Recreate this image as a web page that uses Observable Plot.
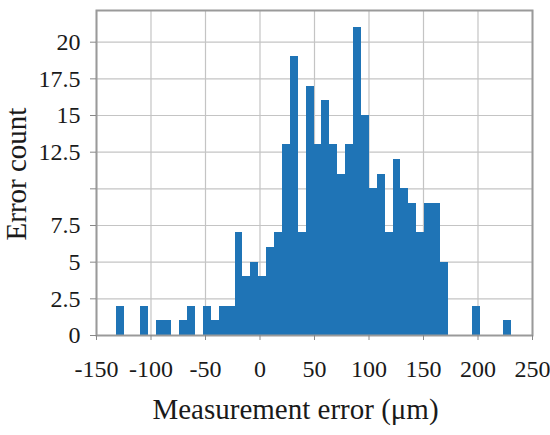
<!DOCTYPE html>
<html>
<head>
<meta charset="utf-8">
<script src="https://cdn.jsdelivr.net/npm/d3@7"></script>
<script src="https://cdn.jsdelivr.net/npm/@observablehq/plot@0.6"></script>
<style>
  html, body { margin: 0; padding: 0; background: #fff; }
  #chart { width: 550px; height: 435px; }
</style>
</head>
<body>
<div id="chart"></div>
<script>
// Histogram: 50 equal-width bins of measurement error (µm)
const binStart = -131.65;   // left edge of first bin (µm)
const binWidth = 7.25;      // bin width (µm)
const counts = [
  2, 0, 0, 2, 0, 1, 1, 0, 1, 2,
  0, 2, 1, 2, 2, 7, 4, 5, 4, 6,
  7, 13, 19, 7, 17, 13, 16, 13, 11, 13,
  21, 15, 10, 11, 7, 12, 10, 9, 7, 9,
  9, 5, 0, 0, 0, 2, 0, 0, 0, 1
];
const xTicks = [-150, -100, -50, 0, 50, 100, 150, 200, 250];
const xTickLabels = ["-150", "-100", "-50", "0", "50", "100", "150", "200", "250"];
const yTicks = [0, 2.5, 5, 7.5, 10, 12.5, 15, 17.5, 20];
const yTickLabels = ["0", "2.5", "5", "7.5", "", "12.5", "15", "17.5", "20"];
const xTitle = "Measurement error (μm)";
const yTitle = "Error count";

const bins = counts.map((c, i) => ({
  x1: binStart + i * binWidth,
  x2: binStart + (i + 1) * binWidth,
  count: c
}));

const serif = "'Liberation Serif', 'Times New Roman', serif";

const chart = Plot.plot({
  width: 550,
  height: 435,
  marginLeft: 96,
  marginRight: 18,
  marginTop: 10,
  marginBottom: 100,
  style: { fontFamily: serif, fontSize: "24px", color: "#1a1a1a", background: "#fff" },
  x: { domain: [-150, 250] },
  y: { domain: [0, 22.16] },
  marks: [
    Plot.gridX(xTicks, { stroke: "#c4c4c4", strokeOpacity: 1, strokeWidth: 1.2 }),
    Plot.gridY(yTicks, { stroke: "#c4c4c4", strokeOpacity: 1, strokeWidth: 1.2 }),
    Plot.rectY(bins, { x1: "x1", x2: "x2", y: "count", fill: "#1f74b6", shapeRendering: "crispEdges" }),
    Plot.frame({ stroke: "#9a9a9a", strokeWidth: 2 }),
    Plot.axisX(xTicks, {
      tickSize: 5, tickPadding: 19, stroke: "#888",
      tickFormat: (d) => xTickLabels[xTicks.indexOf(d)],
      label: null, fontSize: 24
    }),
    Plot.axisY(yTicks, {
      tickSize: 6, tickPadding: 10, stroke: "#888",
      tickFormat: (d) => yTickLabels[yTicks.indexOf(d)],
      label: null, fontSize: 24
    }),
    Plot.text([xTitle], {
      text: (d) => d, frameAnchor: "bottom", lineAnchor: "middle", textAnchor: "middle",
      dx: -19, dy: 74, fontSize: 29, fill: "#1a1a1a"
    }),
    Plot.text([yTitle], {
      text: (d) => d, frameAnchor: "left", lineAnchor: "middle", textAnchor: "middle", rotate: -90,
      dx: -80, dy: 1, fontSize: 29, fill: "#1a1a1a"
    })
  ]
});

document.getElementById("chart").appendChild(chart);
</script>
</body>
</html>
